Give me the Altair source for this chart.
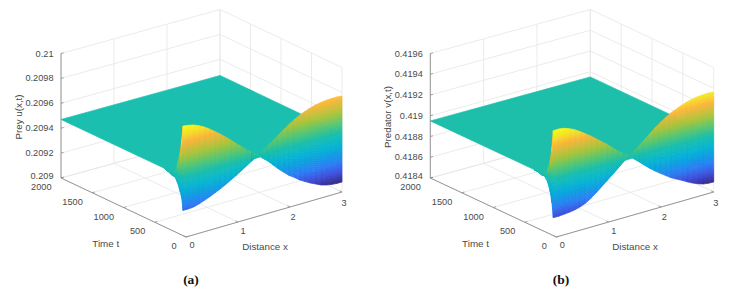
import numpy as np
import pandas as pd
import altair as alt

alt.data_transformers.disable_max_rows()

# Values ----------------------------------------------------------------------
x_samples = [0, .1, .2, .3, .4, .5, .6, .7, .8, .9, 1.0, 1.1, 1.2, 1.3, 1.43, 1.5, 1.6, 1.7, 1.8, 1.9,
             2.0, 2.1, 2.2, 2.3, 2.4, 2.5, 2.6, 2.7, 2.8, 2.9, 3.0]
t_front = [48, 46, 45, 43, 42, 40, 38, 37, 35, 34, 32, 30, 29, 27, 25, 24, 22, 21, 19, 18,
           16, 14, 13, 11, 10, 8, 6, 5, 3, 2, 0]

u_upper = [.209880, .209874, .209865, .209848, .209826, .209798, .209766, .209734, .209699, .209663,
           .209623, .209587, .209551, .209516, .209480, .209448, .209412, .209369, .209325, .209287,
           .209250, .209222, .209190, .209166, .209142, .209123, .209103, .209091, .209084, .209080, .209080]
u_lower = [.209202, .209202, .209206, .209219, .209235, .209252, .209272, .209292, .209315, .209340,
           .209365, .209392, .209420, .209450, .209480, .209503, .209537, .209565, .209598, .209630,
           .209659, .209687, .209709, .209728, .209745, .209757, .209766, .209772, .209774, .209775, .209771]
v_upper = [.419411, .419414, .419406, .419388, .419365, .419333, .419298, .419262, .419222, .419181,
           .419140, .419095, .419050, .419009, .418970, .418933, .418888, .418842, .418797, .418757,
           .418720, .418685, .418650, .418623, .418597, .418568, .418543, .418522, .418505, .418498, .418496]
v_lower = [.418573, .418572, .418577, .418583, .418591, .418606, .418627, .418660, .418699, .418742,
           .418786, .418830, .418874, .418923, .418970, .419000, .419040, .419083, .419127, .419171,
           .419210, .419244, .419274, .419298, .419320, .419338, .419352, .419361, .419366, .419368, .419364]

t_edge_a = [48, 69, 96, 139, 176, 224, 283, 350]
u_edge_up = [.209880, .209763, .209652, .209546, .209482, .209472, .209470, .209470]
u_edge_lo = [.209202, .209297, .209345, .209406, .209440, .209442, .209458, .209470]
t_edge_b = [48, 69, 96, 138, 186, 224, 283, 350]
v_edge_up = [.419411, .419248, .419113, .419007, .418955, .418950, .418950, .418950]
v_edge_lo = [.418573, .418708, .418805, .418892, .418936, .418930, .418945, .418950]

u_flat = .20947
v_flat = .41895

x_ticks = [0, 1, 2, 3]
t_ticks = [0, 500, 1000, 1500, 2000]
u_ticks = [.209, .2092, .2094, .2096, .2098, .21]
v_ticks = [.4184, .4186, .4188, .419, .4192, .4194, .4196]
u_tick_text = ["0.209", "0.2092", "0.2094", "0.2096", "0.2098", "0.21"]
v_tick_text = ["0.4184", "0.4186", "0.4188", "0.419", "0.4192", "0.4194", "0.4196"]

parula_at = [0, .1, .2, .3, .38, .49, .6, .7, .84, .92, 1]
parula = ["#352a87", "#3f4fdc", "#2b7ef5", "#0d9fe0", "#06b4d3", "#1abfae",
          "#5dc76f", "#a9c53c", "#fdb63b", "#f7e02a", "#f9fb15"]

panels = [
    dict(F=(186, 237), R=(342, 192), L=(61, 178), B=(220, 134), zt=u_ticks, ztxt=u_tick_text,
         up=u_upper, lo=u_lower, te=t_edge_a, eu=u_edge_up, el=u_edge_lo, flat=u_flat,
         title="Prey u(x,t)", tag="(a)", tag_x=191, ttl_x=19, ttl_y=117, xt=(265, 247), tt=(105.7, 244)),
    dict(F=(556.3, 237), R=(713.7, 192), L=(430.3, 178), B=(590.3, 134), zt=v_ticks, ztxt=v_tick_text,
         up=v_upper, lo=v_lower, te=t_edge_b, eu=v_edge_up, el=v_edge_lo, flat=v_flat,
         title="Predator v(x,t)", tag="(b)", tag_x=561, ttl_x=388, ttl_y=117, xt=(635, 247), tt=(475.5, 244)),
]

H = 124.5
grid, axes, ticks, cells, right_txt, mid_txt, rot_txt, tags = [], [], [], [], [], [], [], []
cell_id = 0

for p in panels:
    F, R, L, B = [np.array(p[k], float) for k in "FRLB"]
    zmin, zmax = p["zt"][0], p["zt"][-1]
    lo_all, hi_all = min(p["up"] + p["lo"]), max(p["up"] + p["lo"])

    def proj(x, t, z):
        u, v = x / 3, t / 2000
        q = (1 - u) * (1 - v) * F + u * (1 - v) * R + (1 - u) * v * L + u * v * B
        return q[0], q[1] - (z - zmin) / (zmax - zmin) * H

    def seg(store, a, b):
        x1, y1 = proj(*a)
        x2, y2 = proj(*b)
        store.append(dict(px=x1, py=y1, px2=x2, py2=y2))

    def lev(z):
        return (z - lo_all) / (hi_all - lo_all)

    # grid on the floor and the two back walls
    for x in x_ticks:
        seg(grid, (x, 0, zmin), (x, 2000, zmin))
        seg(grid, (x, 2000, zmin), (x, 2000, zmax))
    for t in t_ticks:
        seg(grid, (0, t, zmin), (3, t, zmin))
        seg(grid, (3, t, zmin), (3, t, zmax))
    for z in p["zt"]:
        seg(grid, (0, 2000, z), (3, 2000, z))
        seg(grid, (3, 2000, z), (3, 0, z))

    # axes and ticks
    seg(axes, (0, 2000, zmin), (0, 0, zmin))
    seg(axes, (0, 0, zmin), (3, 0, zmin))
    seg(axes, (0, 2000, zmin), (0, 2000, zmax))
    for x in x_ticks:
        seg(ticks, (x, 0, zmin), (x, 40, zmin))
    for t in t_ticks:
        seg(ticks, (0, t, zmin), (.05, t, zmin))
    for z in p["zt"]:
        seg(ticks, (0, 2000, z), (.05, 2000, z))

    # flat part of the surface, split at its corners into vertical-sided pieces
    c_l, c_f, c_b, c_r = (proj(0, 2000, p["flat"]), proj(0, 0, p["flat"]),
                          proj(3, 2000, p["flat"]), proj(3, 0, p["flat"]))
    xs = [c_l[0], c_f[0], c_b[0], c_r[0]]
    top = np.interp(xs, [c_l[0], c_b[0], c_r[0]], [c_l[1], c_b[1], c_r[1]])
    bot = np.interp(xs, [c_l[0], c_f[0], c_r[0]], [c_l[1], c_f[1], c_r[1]])
    for a, b, c in zip(xs, top, bot):
        cells.append(dict(cell=cell_id, px=a, py=b, py2=c, level=lev(p["flat"])))
    cell_id += 1

    # wing at x = 0, then the sheet
    fr = np.linspace(0, 1, 13)
    te, eu, el = p["te"], p["eu"], p["el"]
    for i in range(len(te) - 1, 0, -1):
        for j in range(len(fr) - 1):
            zs = []
            for k in (i - 1, i):
                z1 = el[k] + (eu[k] - el[k]) * fr[j]
                z2 = el[k] + (eu[k] - el[k]) * fr[j + 1]
                zs += [z1, z2]
            level = lev(sum(zs) / 4)
            for n, k in enumerate((i - 1, i)):
                a, y1 = proj(0, te[k], zs[2 * n])
                _, y2 = proj(0, te[k], zs[2 * n + 1])
                cells.append(dict(cell=cell_id, px=a, py=y1, py2=y2, level=level))
            cell_id += 1

    fr = np.linspace(0, 1, 41)
    up, lo = p["up"], p["lo"]
    for i in range(len(x_samples) - 1):
        for j in range(len(fr) - 1):
            zs = []
            for k in (i, i + 1):
                z1 = lo[k] + (up[k] - lo[k]) * fr[j]
                z2 = lo[k] + (up[k] - lo[k]) * fr[j + 1]
                zs += [z1, z2]
            level = lev(sum(zs) / 4)
            for n, k in enumerate((i, i + 1)):
                a, y1 = proj(x_samples[k], t_front[k], zs[2 * n])
                _, y2 = proj(x_samples[k], t_front[k], zs[2 * n + 1])
                cells.append(dict(cell=cell_id, px=a, py=y1, py2=y2, level=level))
            cell_id += 1

    # labels
    for n, (z, s) in enumerate(zip(p["zt"], p["ztxt"])):
        a, b = proj(0, 2000, z)
        right_txt.append(dict(px=a - 7.5, py=b - (1.6 if n == 0 else 0), text=s))
    for t in t_ticks:
        a, b = proj(0, t, zmin)
        right_txt.append(dict(px=a - 9.5, py=b + 9, text=str(t)))
    for x, dx, dy in zip(x_ticks, [6, 5, 3, 2], [8, 9, 10, 11]):
        a, b = proj(x, 0, zmin)
        mid_txt.append(dict(px=a + dx, py=b + dy, text=str(x), size=9.2))
    mid_txt.append(dict(px=p["xt"][0], py=p["xt"][1], text="Distance x", size=9.8))
    mid_txt.append(dict(px=p["tt"][0], py=p["tt"][1], text="Time t", size=9.8))
    rot_txt.append(dict(px=p["ttl_x"], py=p["ttl_y"], text=p["title"]))
    tags.append(dict(px=p["tag_x"], py=280, text=p["tag"]))

W, Hh = 717, 280
sx = alt.Scale(domain=[8, 725], nice=False, zero=False)
sy = alt.Scale(domain=[288, 8], nice=False, zero=False)
X = alt.X("px:Q", scale=sx, axis=None)
Y = alt.Y("py:Q", scale=sy, axis=None)
cscale = alt.Scale(domain=parula_at, range=parula, interpolate="rgb")


def rules(rows, color, width):
    return alt.Chart(pd.DataFrame(rows)).mark_rule(color=color, strokeWidth=width).encode(
        x=X, y=Y, x2=alt.X2("px2:Q"), y2=alt.Y2("py2:Q"))


surface = alt.Chart(pd.DataFrame(cells)).mark_area(strokeWidth=0.7).encode(
    x=X, y=Y, y2=alt.Y2("py2:Q"), detail="cell:N",
    fill=alt.Fill("level:Q", scale=cscale, legend=None),
    stroke=alt.Stroke("level:Q", scale=cscale, legend=None),
)
right = alt.Chart(pd.DataFrame(right_txt)).mark_text(
    align="right", baseline="middle", font="Liberation Sans", fontSize=9.2, color="#4a4a4a"
).encode(x=X, y=Y, text="text:N")
mid = alt.Chart(pd.DataFrame(mid_txt)).mark_text(
    align="center", baseline="middle", font="Liberation Sans", color="#4a4a4a"
).encode(x=X, y=Y, text="text:N", size=alt.Size("size:Q", scale=None, legend=None))
rot = alt.Chart(pd.DataFrame(rot_txt)).mark_text(
    align="center", baseline="middle", font="Liberation Sans", fontSize=9.8, angle=270, color="#4a4a4a"
).encode(x=X, y=Y, text="text:N")
tag = alt.Chart(pd.DataFrame(tags)).mark_text(
    align="center", baseline="middle", font="Liberation Serif", fontSize=13.5, fontWeight="bold", color="#111111"
).encode(x=X, y=Y, text="text:N")

chart = alt.layer(
    rules(grid, "#e6e6e6", 0.8), rules(axes, "#8c8c8c", 0.9), rules(ticks, "#8c8c8c", 0.8),
    surface, right, mid, rot, tag,
).properties(width=W, height=Hh, padding=0, background="white").configure_view(strokeWidth=0)

chart.save("out.html", embed_options={"renderer": "svg", "actions": False})
